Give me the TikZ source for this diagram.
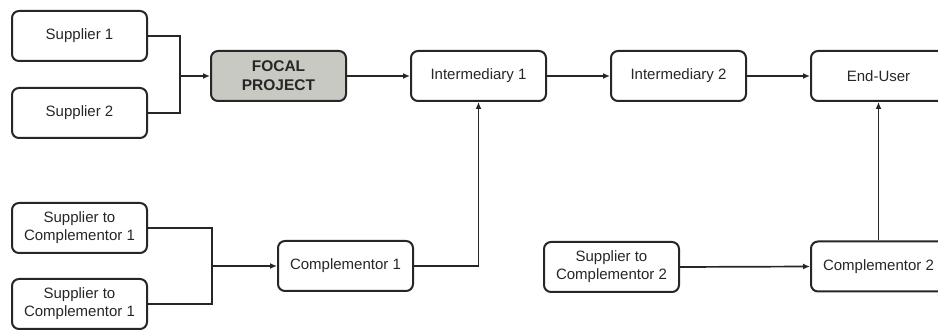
\documentclass[tikz,border=0pt]{standalone}
\usepackage{fontspec}
\setmainfont{Liberation Sans}
\usetikzlibrary{arrows.meta}
\definecolor{ink}{HTML}{262626}
\definecolor{focalfill}{HTML}{C9C9C3}
\begin{document}
\begin{tikzpicture}[x=1pt,y=-1pt,
  box/.style={draw=ink,line width=2pt,rounded corners=7pt,minimum width=135pt,
    minimum height=50pt,inner sep=0pt,align=center,text=ink,
    font=\fontsize{15}{18}\selectfont},
  focal/.style={box,fill=focalfill,font=\fontsize{15.5}{19}\selectfont\bfseries},
  link/.style={draw=ink,line width=1.7pt},
  flow/.style={link,-{Latex[length=7pt,width=6pt]}}]
\useasboundingbox (0,0) rectangle (938,331);
% upstream suppliers and the focal project
\node[box] (s1) at (79.5,36) {Supplier 1};
\node[box] (s2) at (79.5,113) {Supplier 2};
\node[focal] (fp) at (278.5,76) {FOCAL\\PROJECT};
% downstream chain
\node[box] (i1) at (478.5,76) {Intermediary 1};
\node[box] (i2) at (678.5,76) {Intermediary 2};
\node[box] (eu) at (878.5,76) {End-User};
% complementors and their suppliers
\node[box] (sc1a) at (79.5,228) {Supplier to\\Complementor 1};
\node[box] (sc1b) at (79.5,304) {Supplier to\\Complementor 1};
\node[box] (c1) at (345.5,266) {Complementor 1};
\node[box] (sc2) at (611.5,267) {Supplier to\\Complementor 2};
\node[box] (c2) at (878.5,266.5) {Complementor 2};
% junction points where supplier lines merge
\coordinate (j1) at (180,76);
\coordinate (j2) at (212,266);
% connectors
\draw[link] (s1.east) -| (j1);
\draw[link] (s2.east) -| (j1);
\draw[flow] (j1) -- (fp.west);
\draw[flow] (fp) -- (i1);
\draw[flow] (i1) -- (i2);
\draw[flow] (i2) -- (eu);
\draw[link] (sc1a.east) -| (j2);
\draw[link] (sc1b.east) -| (j2);
\draw[flow] (j2) -- (c1.west);
\draw[flow] (c1.east) -| (i1.south);
\draw[flow] (sc2.east) -- (c2.west);
\draw[flow] (c2.north) -- (eu.south);
\end{tikzpicture}
\end{document}
